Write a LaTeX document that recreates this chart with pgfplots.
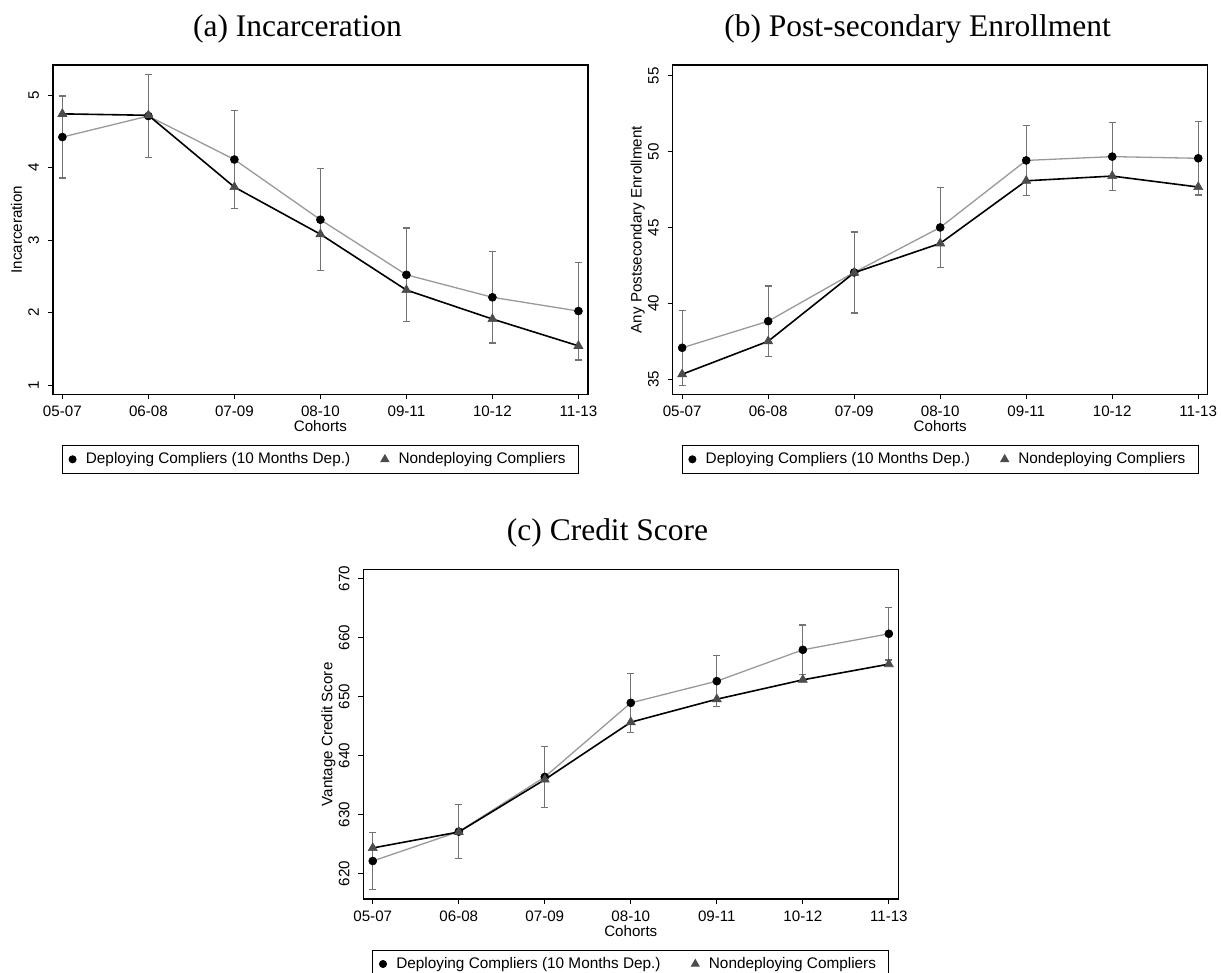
\documentclass[border=0pt]{standalone}
\usepackage{fontspec}
\setmainfont{Liberation Serif}
\newfontfamily\sansA{Liberation Sans}
\usepackage{pgfplots}
\pgfplotsset{compat=1.18}
\usepackage{pgfplotstable}

\definecolor{deplinecol}{gray}{0.6}
\definecolor{errcol}{gray}{0.45}
\definecolor{tricol}{gray}{0.3}

% x = cohort index, d = deploying compliers, e = half CI, n = nondeploying compliers
\pgfplotstableread{
x d e n
0 4.42 0.565 4.74
1 4.71 0.57 4.72
2 4.11 0.675 3.73
3 3.28 0.705 3.08
4 2.52 0.645 2.31
5 2.21 0.63 1.91
6 2.02 0.675 1.54
}\dataA
\pgfplotstableread{
x d e n
0 37.09 2.455 35.35
1 38.84 2.315 37.52
2 42.05 2.665 42.03
3 45.01 2.625 43.96
4 49.42 2.305 48.08
5 49.67 2.25 48.39
6 49.56 2.415 47.67
}\dataB
\pgfplotstableread{
x d e n
0 622.15 4.81 624.36
1 627.13 4.55 627.07
2 636.40 5.175 635.95
3 648.96 5.005 645.68
4 652.64 4.355 649.58
5 657.95 4.21 652.86
6 660.67 4.44 655.52
}\dataC

\pgfplotsset{
  panel/.style={
    scale only axis, width=267.5bp, height=164.65bp,
    anchor=south west,
    xmin=-0.11, xmax=6.11,
    xtick={0,...,6},
    xticklabels={05-07,06-08,07-09,08-10,09-11,10-12,11-13},
    tick align=outside, tick pos=left,
    major tick length=2.5bp,
    every tick/.style={black, line width=0.5bp},
    axis line style={line width=0.7bp},
    /pgf/number format/assume math mode=true,
    ticklabel style={font=\sansA\fontsize{7.6}{9}\selectfont, inner sep=0pt},
    xticklabel shift=3.2bp,
    yticklabel shift=4.5bp,
    yticklabel style={rotate=90, anchor=base},
    label style={font=\sansA\fontsize{7.6}{9}\selectfont, inner sep=0pt},
    xlabel={Cohorts},
    xlabel style={at={([yshift=-18.7bp]axis description cs:0.5,0)}, anchor=base},
    ylabel style={at={([xshift=-15.5bp]axis description cs:0,0.5)}, anchor=base},
    legend columns=2,
    legend cell align=left,
    legend image code/.code={\draw[##1] plot coordinates {(0bp,0bp)};},
    legend style={at={(0.5,-0.154)}, anchor=north, draw=black, line width=0.5bp, fill=white,
      inner xsep=3.25bp, inner ysep=3.3bp,
      font=\sansA\fontsize{7.7}{9}\selectfont,
      nodes={inner sep=0pt, text height=5.6bp, text depth=1.6bp},
      /tikz/every odd column/.append style={column sep=4.9bp}},
  },
  depstyle/.style={deplinecol, line width=0.65bp, mark=*, mark size=2bp,
    mark options={black, fill=black, line width=0.3bp},
    error bars/y dir=both, error bars/y explicit,
    error bars/error bar style={errcol, line width=0.6bp},
    error bars/error mark options={rotate=90, errcol, mark size=1.8bp, line width=0.6bp}},
  nonstyle/.style={black, line width=0.8bp, mark=triangle*, mark size=2.6bp,
    mark options={tricol, fill=tricol, line width=0.3bp}},
}

\newcommand{\legendentries}{%
  \addlegendimage{mark=*, mark size=1.75bp, black, fill=black}
  \addlegendentry{\makebox[147.6bp][l]{Deploying Compliers (10 Months Dep.)}}
  \addlegendimage{mark=triangle*, mark size=2.2bp, tricol, fill=tricol}
  \addlegendentry{\makebox[86.6bp][l]{Nondeploying Compliers}}
}

\begin{document}
\begin{tikzpicture}
\path[use as bounding box] (0,0) rectangle (610.5bp,486.5bp);

\node[font=\fontsize{15.8}{18}\selectfont, anchor=base] at (148.75bp,468.15bp) {(a) Incarceration};
\node[font=\fontsize{15.8}{18}\selectfont, anchor=base] at (458.8bp,468.15bp) {(b) Post-secondary Enrollment};
\node[font=\fontsize{15.8}{18}\selectfont, anchor=base] at (303.75bp,216.15bp) {(c) Credit Score};

\begin{axis}[panel, at={(26.45bp,289.35bp)},
  ymin=0.872, ymax=5.414, ytick={1,2,3,4,5},
  ylabel={Incarceration}]
  \addplot[forget plot, depstyle] table[x=x, y=d, y error=e]{\dataA};
  \addplot[forget plot, nonstyle] table[x=x, y=n]{\dataA};
  \legendentries
\end{axis}

\begin{axis}[panel, at={(336.35bp,289.35bp)},
  ymin=34.03, ymax=55.70, ytick={35,40,45,50,55},
  ylabel={Any Postsecondary Enrollment}]
  \addplot[forget plot, depstyle] table[x=x, y=d, y error=e]{\dataB};
  \addplot[forget plot, nonstyle] table[x=x, y=n]{\dataB};
  \legendentries
\end{axis}

\begin{axis}[panel, at={(181.65bp,37bp)},
  ymin=615.71, ymax=671.53, ytick={620,630,640,650,660,670},
  ylabel={Vantage Credit Score}]
  \addplot[forget plot, depstyle] table[x=x, y=d, y error=e]{\dataC};
  \addplot[forget plot, nonstyle] table[x=x, y=n]{\dataC};
  \legendentries
\end{axis}
\end{tikzpicture}
\end{document}
